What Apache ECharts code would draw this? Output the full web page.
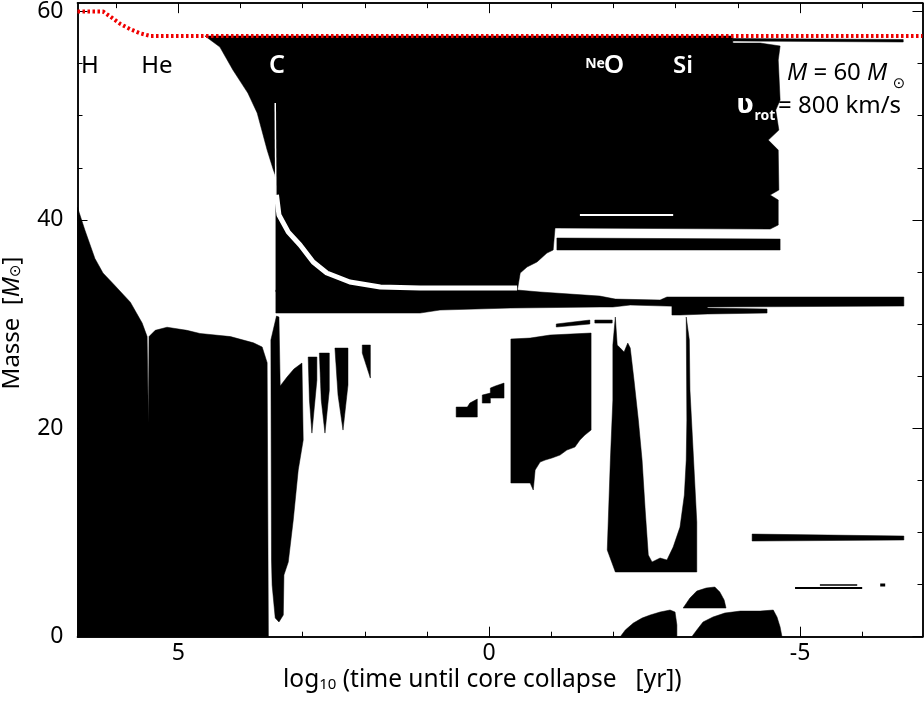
<!DOCTYPE html>
<html lang="de">
<head>
<meta charset="UTF-8">
<title>Kippenhahn 60 Msun</title>
<style>
  html, body { margin: 0; padding: 0; background: #fff; }
  #main { width: 924px; height: 702px; }
</style>
<script src="https://cdn.jsdelivr.net/npm/echarts@6/dist/echarts.min.js"></script>
</head>
<body>
<div id="main"></div>
<script>
// axis ticks
var xMinorTicks = [-6, -5, -4, -3, -2, -1, 0, 1, 2, 3, 4, 5, 6];
var xMajorTicks = [-5, 0, 5];
var yMinorTicks = [0, 5, 10, 15, 20, 25, 30, 35, 40, 45, 50, 55, 60];
var yMajorTicks = [0, 20, 40, 60];

// surface mass (red dotted)
var surfaceMass = [[6.62, 60.0], [6.21, 60.0], [6.09, 59.5], [5.93, 58.8], [5.77, 58.3], [5.61, 57.9], [5.45, 57.65], [-6.97, 57.65]];

// convective zones [log t, mass]
var hHeCore = [[6.62, 41.2], [6.50, 39.0], [6.34, 36.3], [6.21, 34.9], [6.05, 33.9], [5.77, 32.1], [5.58, 30.1], [5.50, 28.8], [5.48, 20.5], [5.47, 28.8], [5.37, 29.4], [5.18, 29.7], [4.86, 29.4], [4.65, 29.1], [4.16, 28.8], [3.79, 28.2], [3.65, 27.8], [3.57, 26.3], [3.55, 0], [6.62, 0]];
var cCore = [[3.51, 28.47], [3.42, 30.77], [3.38, 30.68], [3.36, 24.06], [3.25, 24.92], [3.14, 25.69], [3.01, 26.26], [2.99, 18.87], [3.07, 16.0], [3.15, 11.2], [3.23, 7.17], [3.30, 5.92], [3.31, 2.08], [3.38, 1.41], [3.44, 1.79], [3.49, 4.96], [3.50, 7.36]];
var cShell1 = [[2.91, 26.84], [2.77, 26.84], [2.77, 24.63], [2.85, 19.54], [2.89, 22.71]];
var cShell2 = [[2.73, 27.22], [2.57, 27.22], [2.57, 23.67], [2.64, 19.54], [2.70, 22.71]];
var cShell3 = [[2.48, 27.70], [2.27, 27.70], [2.27, 24.15], [2.35, 19.83], [2.43, 23.19]];
var cShell4 = [[2.04, 27.99], [1.91, 27.99], [1.91, 24.82], [2.04, 27.22]];
var envelope = [[4.57, 57.65], [-3.92, 57.65], [-3.92, 56.97], [-4.36, 56.97], [-4.68, 56.69], [-4.65, 55.34], [-4.68, 51.50], [-4.61, 50.54], [-4.66, 48.62], [-4.49, 47.66], [-4.65, 46.70], [-4.66, 42.87], [-4.52, 42.39], [-4.65, 41.91], [-4.65, 39.51], [-4.52, 39.12], [-1.06, 39.22], [-1.03, 37.11], [-0.93, 36.82], [-0.77, 35.96], [-0.61, 35.48], [-0.50, 34.90], [-0.45, 33.1], [3.43, 33.1], [3.43, 43.83], [3.44, 44.31], [3.47, 44.79], [3.57, 46.70], [3.73, 50.26], [3.88, 52.17], [4.12, 54.38], [4.33, 56.59]];
var topStrip = [[-3.92, 57.41], [-6.66, 57.31], [-6.66, 57.07], [-3.92, 57.17]];
var shellBand = [[3.43, 33.27], [-0.45, 33.27], [-0.82, 33.08], [-1.78, 32.69], [-2.03, 32.40], [-2.75, 32.31], [-2.86, 32.60], [-6.67, 32.60], [-6.67, 31.73], [-3.51, 31.64], [-2.86, 31.73], [-2.27, 31.83], [-1.99, 31.64], [-1.78, 31.64], [-0.34, 31.54], [0.79, 31.35], [1.11, 31.06], [3.43, 31.06]];
var bandFoot = [[-2.94, 31.83], [-3.51, 31.83], [-3.51, 31.54], [-4.47, 31.45], [-4.47, 31.06], [-3.51, 30.97], [-3.07, 30.87], [-2.94, 30.87]];
var bar37 = [[-1.09, 38.26], [-4.68, 38.16], [-4.68, 37.11], [-1.09, 37.11]];
var step1 = [[0.53, 22.04], [0.35, 22.04], [0.31, 22.42], [0.19, 22.81], [0.19, 21.08], [0.53, 21.08]];
var step2 = [[0.11, 23.19], [-0.02, 23.38], [-0.02, 23.86], [-0.10, 24.06], [-0.24, 24.34], [-0.24, 22.90], [-0.02, 22.90], [-0.02, 22.42], [0.11, 22.42]];
var neShell = [[-0.35, 28.57], [-0.66, 28.66], [-0.98, 28.95], [-1.64, 29.14], [-1.64, 19.83], [-1.54, 19.35], [-1.46, 18.87], [-1.38, 18.20], [-1.25, 17.91], [-1.14, 17.43], [-1.01, 17.15], [-0.90, 16.95], [-0.82, 16.76], [-0.74, 15.99], [-0.71, 14.08], [-0.66, 14.75], [-0.35, 14.75]];
var thinBar1 = [[-1.08, 30.01], [-1.62, 30.39], [-1.62, 30.01], [-1.08, 29.72]];
var thinBar2 = [[-1.70, 30.39], [-1.98, 30.39], [-1.98, 30.10], [-1.70, 30.10]];
var oShell = [[-1.99, 27.99], [-2.03, 30.68], [-2.06, 27.99], [-2.11, 27.70], [-2.17, 27.32], [-2.23, 28.18], [-2.27, 27.70], [-2.33, 24.63], [-2.40, 20.79], [-2.46, 16.95], [-2.51, 12.16], [-2.56, 7.84], [-2.62, 7.17], [-2.75, 7.55], [-2.86, 7.36], [-2.96, 8.60], [-3.07, 10.52], [-3.14, 13.60], [-3.17, 16.95], [-3.18, 20.79], [-3.17, 30.68], [-3.22, 28.47], [-3.23, 23.67], [-3.28, 17.91], [-3.34, 11.00], [-3.34, 6.21], [-2.03, 6.21], [-1.90, 8.32], [-1.95, 16.95], [-1.99, 22.71]];
var oCore = [[-2.11, 0], [-2.19, 0.64], [-2.32, 1.31], [-2.46, 1.79], [-2.59, 2.08], [-2.75, 2.37], [-2.91, 2.56], [-2.99, 2.37], [-3.02, 1.12], [-3.02, 0]];
var siCore = [[-3.26, 0], [-3.34, 0.64], [-3.44, 1.41], [-3.60, 1.89], [-3.79, 2.27], [-4.04, 2.46], [-4.36, 2.46], [-4.57, 2.56], [-4.63, 1.89], [-4.68, 0.93], [-4.71, 0]];
var siShell = [[-3.12, 2.75], [-3.23, 3.71], [-3.34, 4.38], [-3.49, 4.67], [-3.63, 4.77], [-3.71, 4.29], [-3.78, 3.52], [-3.81, 2.75]];
var bar9 = [[-4.23, 9.85], [-6.67, 9.66], [-6.67, 9.28], [-4.23, 9.18]];

// thin features
var whiteCurve = [[3.42, 42.4], [3.38, 40.47], [3.23, 38.83], [3.04, 37.59], [2.83, 35.96], [2.61, 34.90], [2.24, 34.04], [1.75, 33.56], [1.11, 33.46], [0.47, 33.46], [-0.18, 33.46], [-0.45, 33.46]];
var whiteSpike = [[3.44, 51.22], [3.43, 42.4]];
var whiteGap = [[-1.46, 40.47], [-2.96, 40.47]];
var thinLine1 = [[-4.92, 4.67], [-6.00, 4.67]];
var thinLine2 = [[-5.32, 4.96], [-5.92, 4.96]];
var thinLine3 = [[-6.29, 4.96], [-6.37, 4.96]];

var blackZones = [hHeCore, cCore, cShell1, cShell2, cShell3, cShell4, envelope, topStrip, shellBand, bandFoot,
  bar37, step1, step2, neShell, thinBar1, thinBar2, oShell, oCore, siCore, siShell, bar9];

var FONT = 'Noto Sans';

function xAx(pos, ticks, len, labels) {
  return {
    type: 'value', position: pos, min: -6.97, max: 6.62, inverse: true,
    axisLine: { show: true, onZero: false, lineStyle: { color: '#000', width: 1.5 } },
    axisTick: { show: true, inside: true, length: len, customValues: ticks, lineStyle: { color: '#000', width: 1 } },
    axisLabel: labels ? { show: true, customValues: xMajorTicks, margin: 5, color: '#000', fontSize: 23, fontFamily: FONT } : { show: false },
    splitLine: { show: false }
  };
}
function yAx(pos, ticks, len, labels) {
  return {
    type: 'value', position: pos, min: 0, max: 60.8,
    axisLine: { show: true, onZero: false, lineStyle: { color: '#000', width: 1.5 } },
    axisTick: { show: true, inside: true, length: len, customValues: ticks, lineStyle: { color: '#000', width: 1 } },
    axisLabel: labels ? { show: true, customValues: yMajorTicks, margin: 14, color: '#000', fontSize: 23, fontFamily: FONT } : { show: false },
    splitLine: { show: false }
  };
}

function lineSeries(data, color, width, z, dash) {
  return {
    type: 'line', data: data, symbol: 'none', z: z, silent: true,
    lineStyle: { color: color, width: width, type: dash || 'solid', cap: 'butt' }
  };
}

var chart = echarts.init(document.getElementById('main'), null, { renderer: 'canvas' });
var option = {
  animation: false,
  backgroundColor: '#fff',
  grid: { left: 77.5, right: 1.5, top: 3, bottom: 65.3 },
  xAxis: [xAx('bottom', xMinorTicks, 5, true), xAx('bottom', xMajorTicks, 10, false), xAx('top', xMinorTicks, 5, false), xAx('top', xMajorTicks, 10, false)],
  yAxis: [yAx('left', yMinorTicks, 5, true), yAx('left', yMajorTicks, 10, false), yAx('right', yMinorTicks, 5, false), yAx('right', yMajorTicks, 10, false)],
  series: [
    {
      type: 'custom', z: 2, silent: true,
      data: blackZones.map(function (s) { return s[0]; }),
      renderItem: function (params, api) {
        var pts = blackZones[params.dataIndex].map(function (p) { return api.coord(p); });
        return { type: 'polygon', shape: { points: pts }, style: { fill: '#000', stroke: '#000', lineWidth: 0.5 } };
      }
    },
    lineSeries(whiteCurve, '#fff', 5, 3),
    lineSeries(whiteSpike, '#fff', 1.5, 3),
    lineSeries(whiteGap, '#fff', 2, 3),
    lineSeries(thinLine1, '#000', 2, 3),
    lineSeries(thinLine2, '#000', 1.5, 3),
    lineSeries(thinLine3, '#000', 3, 3),
    lineSeries(surfaceMass, '#f00000', 4, 4, [2.5, 2.5])
  ],
  graphic: [
    { type: 'text', x: 90, y: 66, z: 10, style: { text: 'H', fill: '#000', fontSize: 24, fontFamily: FONT, align: 'center', verticalAlign: 'middle' } },
    { type: 'text', x: 157, y: 66, z: 10, style: { text: 'He', fill: '#000', fontSize: 24, fontFamily: FONT, align: 'center', verticalAlign: 'middle' } },
    { type: 'text', x: 277, y: 66, z: 10, style: { text: 'C', fill: '#fff', fontSize: 25, fontWeight: 600, fontFamily: FONT, align: 'center', verticalAlign: 'middle' } },
    { type: 'text', x: 595, y: 64, z: 10, style: { text: 'Ne', fill: '#fff', fontSize: 14, fontWeight: 'bold', fontFamily: FONT, align: 'center', verticalAlign: 'middle' } },
    { type: 'text', x: 614, y: 66, z: 10, style: { text: 'O', fill: '#fff', fontSize: 26, fontWeight: 600, fontFamily: FONT, align: 'center', verticalAlign: 'middle' } },
    { type: 'text', x: 683, y: 66, z: 10, style: { text: 'Si', fill: '#fff', fontSize: 24, fontWeight: 600, fontFamily: FONT, align: 'center', verticalAlign: 'middle' } },
    { type: 'text', x: 787, y: 73, z: 10, style: { text: '{i|M} = 60 {i|M}', fill: '#000', fontSize: 24, fontFamily: FONT, align: 'left', verticalAlign: 'middle', rich: { i: { fontStyle: 'italic', fontSize: 24, fontFamily: FONT, fill: '#000' } } } },
    { type: 'text', x: 899, y: 84, z: 10, style: { text: '\u2299', fill: '#000', fontSize: 15, fontFamily: 'DejaVu Sans', align: 'center', verticalAlign: 'middle' } },
    { type: 'text', x: 745, y: 106, z: 10, style: { text: '\u028b', fill: '#fff', fontSize: 26, fontWeight: 'bold', fontFamily: 'DejaVu Sans', align: 'center', verticalAlign: 'middle' } },
    { type: 'text', x: 765, y: 116, z: 10, style: { text: 'rot', fill: '#fff', fontSize: 14, fontWeight: 'bold', fontFamily: FONT, align: 'center', verticalAlign: 'middle' } },
    { type: 'text', x: 778, y: 106, z: 10, style: { text: '= 800 km/s', fill: '#000', fontSize: 24, fontFamily: FONT, align: 'left', verticalAlign: 'middle' } },
    { type: 'text', x: 283, y: 680, z: 10, style: { text: 'log{sub|10} (time until core collapse   [yr])', fill: '#000', fontSize: 24.5, fontFamily: FONT, align: 'left', verticalAlign: 'middle', rich: { sub: { fontSize: 15, fontFamily: FONT, fill: '#000', verticalAlign: 'bottom' } } } },
    { type: 'text', x: 12, y: 323, z: 10, rotation: Math.PI / 2, style: { text: 'Masse  [{i|M}{sun|\u2299}]', fill: '#000', fontSize: 24, fontFamily: FONT, align: 'center', verticalAlign: 'middle', rich: { i: { fontStyle: 'italic', fontSize: 24, fontFamily: FONT, fill: '#000' }, sun: { fontSize: 15, fontFamily: 'DejaVu Sans', fill: '#000', verticalAlign: 'bottom' } } } }
  ]
};
chart.setOption(option);
</script>
</body>
</html>
